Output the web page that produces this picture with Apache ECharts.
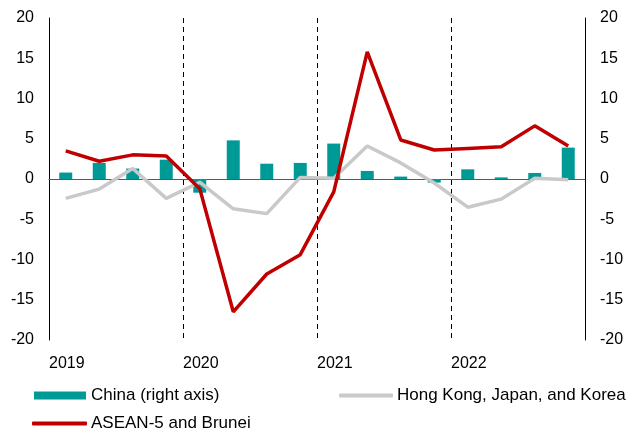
<!DOCTYPE html>
<html>
<head>
<meta charset="utf-8">
<script src="https://cdn.jsdelivr.net/npm/echarts@6/dist/echarts.min.js"></script>
<style>
  html, body { margin: 0; padding: 0; background: #fff; }
  #chart { width: 630px; height: 430px; }
</style>
</head>
<body>
<div id="chart"></div>
<script>
// quarters 2019Q1 .. 2022Q4
const quarters = [
  "2019Q1", "2019Q2", "2019Q3", "2019Q4",
  "2020Q1", "2020Q2", "2020Q3", "2020Q4",
  "2021Q1", "2021Q2", "2021Q3", "2021Q4",
  "2022Q1", "2022Q2", "2022Q3", "2022Q4"
];
const yearLabels = ["2019", "2020", "2021", "2022"];

// China, right axis (bars)
const china = [0.8, 2.0, 1.3, 2.4, -1.7, 4.8, 1.9, 2.0, 4.4, 1.0, 0.3, -0.45, 1.2, 0.2, 0.75, 3.9];
// Hong Kong, Japan, and Korea (grey line)
const hkJapanKorea = [-2.4, -1.25, 1.3, -2.4, -0.4, -3.7, -4.3, 0.2, 0.1, 4.1, 2.0, -0.5, -3.5, -2.5, 0.1, -0.1];
// ASEAN-5 and Brunei (red line)
const asean = [3.5, 2.2, 3.0, 2.85, -1.2, -16.5, -11.8, -9.4, -1.6, 15.8, 4.85, 3.6, 3.8, 4.0, 6.6, 4.1];

const chart = echarts.init(document.getElementById("chart"));

const fontFamily = "Liberation Sans, Arial, sans-serif";
const tickLabel = { color: "#000", fontSize: 16, fontFamily: fontFamily };
const legendText = { color: "#000", fontSize: 17, fontFamily: fontFamily };

chart.setOption({
  animation: false,
  grid: { left: 49, right: 45, top: 18, bottom: 90 },
  legend: [
    {
      left: 29, top: 382, itemWidth: 52, itemHeight: 8,
      textStyle: legendText, selectedMode: false,
      data: [{ name: "China (right axis)", icon: "rect" }]
    },
    {
      left: 334, top: 382, itemWidth: 54, itemHeight: 4,
      textStyle: { ...legendText, padding: [0, 0, 0, -1] }, selectedMode: false,
      data: [{ name: "Hong Kong, Japan, and Korea", icon: "roundRect" }]
    },
    {
      left: 27, top: 410, itemWidth: 55, itemHeight: 4,
      textStyle: { ...legendText, padding: [0, 0, 0, -1] }, selectedMode: false,
      data: [{ name: "ASEAN-5 and Brunei", icon: "roundRect" }]
    }
  ],
  xAxis: [
    {
      type: "category",
      data: quarters,
      boundaryGap: true,
      axisLine: { onZero: true, lineStyle: { color: "#595959", width: 1 } },
      axisTick: { show: false },
      axisLabel: { show: false },
      splitLine: { show: false }
    },
    {
      type: "value",
      min: 0,
      max: 16,
      interval: 4,
      position: "bottom",
      axisLine: { show: false },
      axisTick: { show: false },
      axisLabel: {
        ...tickLabel,
        align: "left",
        margin: 16,
        showMaxLabel: false,
        formatter: (v) => yearLabels[v / 4] || ""
      },
      splitLine: { show: true, lineStyle: { color: "#000", width: 1, type: [5, 4] } }
    }
  ],
  yAxis: [
    {
      type: "value",
      min: -20, max: 20, interval: 5,
      axisLine: { show: true, lineStyle: { color: "#000", width: 1 } },
      axisTick: { show: false },
      splitLine: { show: false },
      axisLabel: { ...tickLabel, margin: 15 }
    },
    {
      type: "value",
      position: "right",
      min: -20, max: 20, interval: 5,
      axisLine: { show: true, lineStyle: { color: "#000", width: 1 } },
      axisTick: { show: false },
      splitLine: { show: false },
      axisLabel: { ...tickLabel, margin: 15 }
    }
  ],
  series: [
    {
      name: "China (right axis)",
      type: "bar",
      xAxisIndex: 0,
      yAxisIndex: 1,
      data: china,
      barWidth: 13,
      itemStyle: { color: "#009a96" }
    },
    {
      name: "Hong Kong, Japan, and Korea",
      type: "line",
      xAxisIndex: 0,
      yAxisIndex: 0,
      data: hkJapanKorea,
      showSymbol: false,
      symbol: "none",
      lineStyle: { color: "#c9c9c9", width: 3.5 },
      itemStyle: { color: "#c9c9c9" }
    },
    {
      name: "ASEAN-5 and Brunei",
      type: "line",
      xAxisIndex: 0,
      yAxisIndex: 0,
      data: asean,
      showSymbol: false,
      symbol: "none",
      lineStyle: { color: "#c00000", width: 3.5 },
      itemStyle: { color: "#c00000" }
    }
  ]
});
</script>
</body>
</html>
